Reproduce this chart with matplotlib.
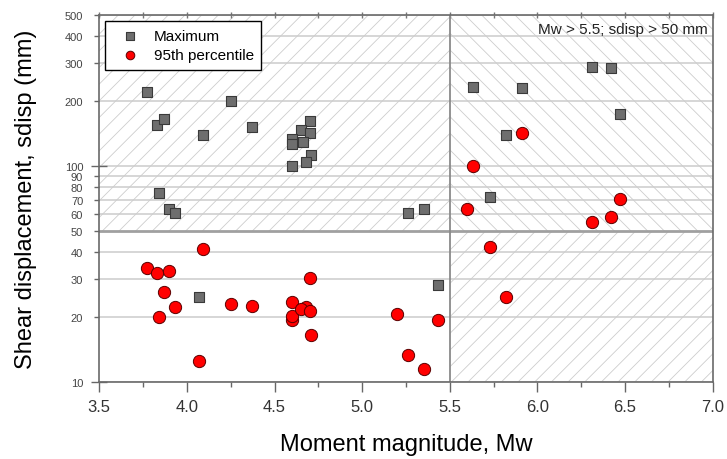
import matplotlib
matplotlib.use('Agg')
import matplotlib.pyplot as plt
from matplotlib.ticker import FixedLocator, FixedFormatter, NullFormatter

plt.rcParams['font.family'] = ['Liberation Sans', 'DejaVu Sans']
plt.rcParams['hatch.linewidth'] = 0.6

# Maximum shear displacement (squares)
max_mw = [3.77, 4.25, 3.83, 3.87, 4.09, 4.37, 4.70, 4.65, 4.70, 4.60, 4.60, 4.66,
          4.71, 4.68, 4.60, 3.84, 3.90, 3.93, 5.63, 5.91, 6.31, 6.42, 6.47, 5.82,
          5.73, 5.26, 5.35, 5.43, 4.07]
max_sd = [220, 200, 155, 165, 140, 151, 161, 147, 142, 134, 127, 129,
          113, 105, 100, 75, 63.6, 61, 233, 229, 286, 283, 174, 139,
          72, 61, 63.5, 28.1, 24.7]

# 95th percentile shear displacement (circles)
p95_mw = [4.09, 3.77, 3.83, 3.90, 3.87, 3.93, 3.84, 4.07, 4.25, 4.37, 4.70, 4.60,
          4.60, 4.60, 4.68, 4.65, 4.70, 4.71, 5.20, 5.43, 5.26, 5.35, 5.91, 5.63,
          5.60, 6.47, 6.42, 6.31, 5.73, 5.82]
p95_sd = [41.4, 33.8, 32.1, 32.7, 26.2, 22.2, 20.0, 12.6, 23.1, 22.5, 30.4, 23.4,
          19.5, 20.3, 22.4, 21.8, 21.3, 16.6, 20.8, 19.5, 13.4, 11.5, 143, 100.4,
          63.6, 70.2, 58.4, 55.4, 42.3, 24.7]

y_major = [10, 100]
y_minor = [20, 30, 40, 50, 60, 70, 80, 90, 200, 300, 400, 500]
x_major = [3.5, 4.0, 4.5, 5.0, 5.5, 6.0, 6.5, 7.0]
x_minor = [3.75, 4.25, 4.75, 5.25, 5.75, 6.25, 6.75]
mw_cut = 5.5
sd_cut = 50

fig = plt.figure(figsize=(7.27, 4.60), dpi=100)
ax = fig.add_axes([0.1366, 0.1667, 0.8437, 0.7985])
ax.set_yscale('log')
ax.set_xlim(3.5, 7.0)
ax.set_ylim(10, 500)

hatch_col = '#cdcdcd'
ax.fill_between([3.5, mw_cut], sd_cut, 500, facecolor='none', edgecolor=hatch_col,
                hatch='//', linewidth=0, zorder=0)
ax.fill_between([mw_cut, 7.0], sd_cut, 500, facecolor='none', edgecolor=hatch_col,
                hatch='\\\\', linewidth=0, zorder=0)
ax.fill_between([mw_cut, 7.0], 10, sd_cut, facecolor='none', edgecolor=hatch_col,
                hatch='//', linewidth=0, zorder=0)

for v in y_major + y_minor:
    if v == sd_cut:
        ax.axhline(v, color='#a0a0a0', lw=2.0, zorder=1)
    else:
        ax.axhline(v, color='#cccccc', lw=1.1, zorder=1)
ax.axvline(mw_cut, color='#8a8a8a', lw=1.3, zorder=1)

ax.scatter(max_mw, max_sd, marker='s', s=58, facecolor='#6e6e6e', edgecolor='#3a3a3a',
           linewidth=0.8, zorder=3, label='Maximum')
ax.scatter(p95_mw, p95_sd, marker='o', s=78, facecolor='#ff0000', edgecolor='#5a0000',
           linewidth=0.7, zorder=4, label='95th percentile')

# y axis ticks
ax.yaxis.set_major_locator(FixedLocator(y_major))
ax.yaxis.set_major_formatter(FixedFormatter([str(v) for v in y_major]))
ax.yaxis.set_minor_locator(FixedLocator(y_minor))
ax.yaxis.set_minor_formatter(FixedFormatter([str(v) for v in y_minor]))
ax.tick_params(axis='y', which='major', direction='inout', length=11, width=1,
               color='#666666', labelsize=8, labelcolor='#444444', pad=6)
ax.tick_params(axis='y', which='minor', direction='out', length=3.6, width=1,
               color='#666666', labelsize=8, labelcolor='#444444', pad=8)
ax.tick_params(axis='y', which='both', right=False)

# x axis ticks
ax.xaxis.set_major_locator(FixedLocator(x_major))
ax.xaxis.set_major_formatter(FixedFormatter(['%.1f' % v for v in x_major]))
ax.xaxis.set_minor_locator(FixedLocator(x_minor))
ax.xaxis.set_minor_formatter(NullFormatter())
ax.tick_params(axis='x', which='major', direction='out', length=7, width=1,
               color='#666666', labelsize=12, labelcolor='#333333', pad=5)
ax.tick_params(axis='x', which='minor', direction='out', length=3.6, width=1,
               color='#666666')

# inward ticks along the top edge
top = ax.secondary_xaxis('top')
top.xaxis.set_major_locator(FixedLocator(x_major + x_minor))
top.xaxis.set_major_formatter(NullFormatter())
top.tick_params(direction='inout', length=5, width=1, color='#777777')
top.spines['top'].set_visible(False)

for s in ax.spines.values():
    s.set_color('#6a6a6a')
    s.set_linewidth(1.2)

ax.set_xlabel('Moment magnitude, Mw', fontsize=17, labelpad=14)
ax.set_ylabel('Shear displacement, sdisp (mm)', fontsize=17, labelpad=20)

leg = ax.legend(loc='upper left', bbox_to_anchor=(0.01, 0.984), borderaxespad=0,
                fancybox=False, framealpha=1, edgecolor='black', fontsize=11,
                markerscale=0.7, handletextpad=0.45, borderpad=0.5,
                labelspacing=0.35, handlelength=2.2)
leg.get_frame().set_linewidth(1.0)
leg.set_zorder(5)

ax.text(0.992, 0.962, 'Mw > 5.5; sdisp > 50 mm', transform=ax.transAxes,
        ha='right', va='center', fontsize=11, color='#222222', zorder=5)

fig.savefig('out.png', dpi=100)
